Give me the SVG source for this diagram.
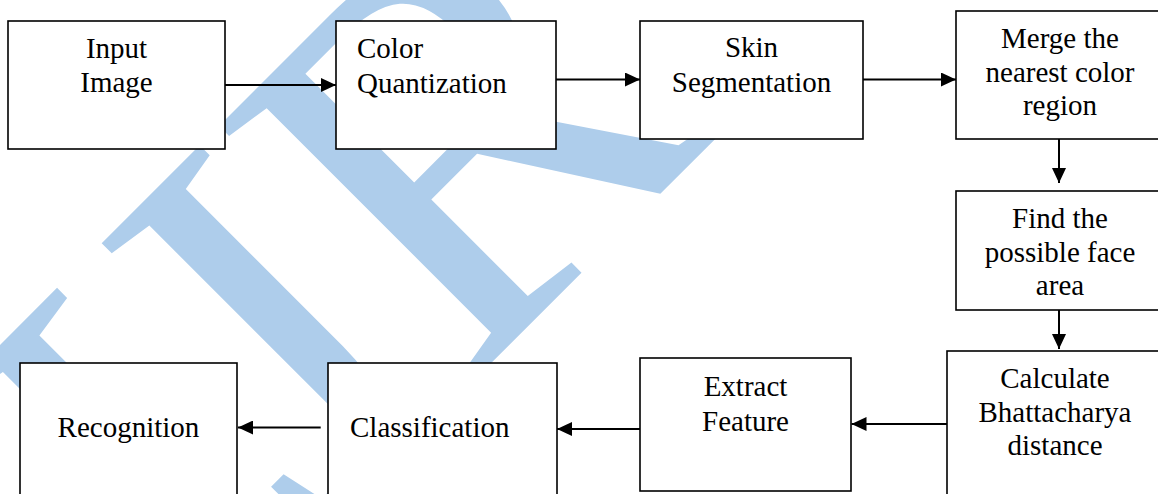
<svg xmlns="http://www.w3.org/2000/svg" width="1158" height="494" viewBox="0 0 1158 494">
  <style>
    .box { fill: #ffffff; stroke: #000000; stroke-width: 1.6; }
    .lbl { font-family: "Liberation Serif", "Times New Roman", serif; font-size: 29px; fill: #000000; }
    .mid { text-anchor: middle; }
    .edge { fill: none; stroke: #000000; stroke-width: 2; marker-end: url(#head); }
    .mark { font-family: "Liberation Serif", "Times New Roman", serif; font-size: 550px; fill: #aecdeb; }
  </style>
  <defs>
    <marker id="head" markerUnits="userSpaceOnUse" markerWidth="15" markerHeight="14" refX="15" refY="7" orient="auto">
      <path d="M0,0 L15,7 L0,14 Z" fill="#000000"/>
    </marker>
  </defs>

  <rect width="1158" height="494" fill="#ffffff"/>

  <!-- background watermark, set diagonally behind the flow -->
  <g id="watermark">
    <text class="mark" transform="rotate(-45)" x="-327 -164 50" y="604">IJR</text>
  </g>

  <!-- connectors -->
  <g id="connectors">
    <path class="edge" d="M225,85 H336"/>
    <path class="edge" d="M556,79.5 H640"/>
    <path class="edge" d="M863,79.5 H956"/>
    <path class="edge" d="M1059,139 V183"/>
    <path class="edge" d="M1059,310 V349"/>
    <path class="edge" d="M947,424 H851.5"/>
    <path class="edge" d="M640,429 H557"/>
    <path class="edge" d="M320.7,427.5 H238"/>
  </g>

  <g id="input-image">
    <rect class="box" x="8" y="21" width="217" height="128"/>
    <text class="lbl mid" x="116.5" y="58.3">Input</text>
    <text class="lbl mid" x="116.5" y="91.7">Image</text>
  </g>

  <g id="color-quantization">
    <rect class="box" x="336" y="21" width="220" height="128"/>
    <text class="lbl" x="357" y="58.3">Color</text>
    <text class="lbl" x="357" y="93.3">Quantization</text>
  </g>

  <g id="skin-segmentation">
    <rect class="box" x="640" y="21" width="223" height="118"/>
    <text class="lbl mid" x="751.5" y="57.3">Skin</text>
    <text class="lbl mid" x="751.5" y="91.7">Segmentation</text>
  </g>

  <g id="merge-region">
    <rect class="box" x="956" y="11" width="210" height="128"/>
    <text class="lbl mid" x="1060" y="48.3">Merge the</text>
    <text class="lbl mid" x="1060" y="81.7">nearest color</text>
    <text class="lbl mid" x="1060" y="115">region</text>
  </g>

  <g id="face-area">
    <rect class="box" x="956" y="191" width="210" height="119"/>
    <text class="lbl mid" x="1060" y="228.3">Find the</text>
    <text class="lbl mid" x="1060" y="261.7">possible face</text>
    <text class="lbl mid" x="1060" y="295">area</text>
  </g>

  <g id="bhattacharya">
    <rect class="box" x="947" y="351" width="220" height="150"/>
    <text class="lbl mid" x="1055" y="388.3">Calculate</text>
    <text class="lbl mid" x="1055" y="421.7">Bhattacharya</text>
    <text class="lbl mid" x="1055" y="455">distance</text>
  </g>

  <g id="extract-feature">
    <rect class="box" x="640" y="358" width="211" height="133"/>
    <text class="lbl mid" x="745.5" y="396">Extract</text>
    <text class="lbl mid" x="745.5" y="431">Feature</text>
  </g>

  <g id="classification">
    <rect class="box" x="328" y="363" width="229" height="140"/>
    <text class="lbl" x="350" y="436.7">Classification</text>
  </g>

  <g id="recognition">
    <rect class="box" x="20" y="363" width="217" height="140"/>
    <text class="lbl mid" x="128.5" y="437">Recognition</text>
  </g>
</svg>
